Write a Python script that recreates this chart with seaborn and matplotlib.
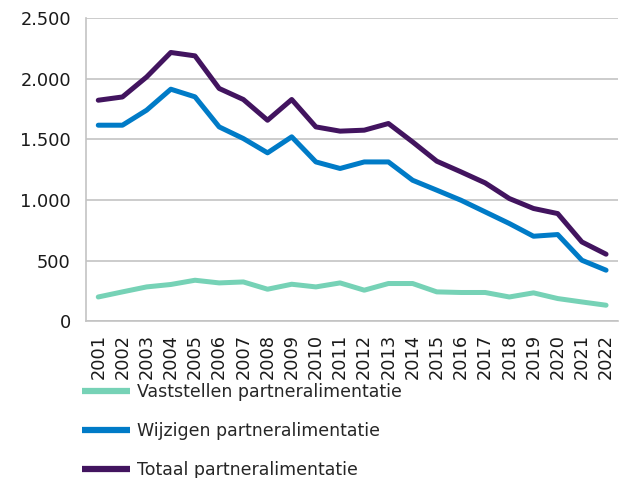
import pandas as pd
import seaborn as sns
import matplotlib.pyplot as plt
from matplotlib.ticker import FuncFormatter, MultipleLocator

# Partneralimentatie per jaar
years = list(range(2001, 2023))
vaststellen = [200, 242, 283, 303, 338, 316, 324, 264, 305, 283, 316, 256,
               311, 311, 242, 237, 237, 200, 234, 187, 159, 132]
wijzigen = [1617, 1617, 1741, 1914, 1851, 1603, 1507, 1389, 1521, 1314, 1260, 1314,
            1314, 1163, 1081, 998, 902, 806, 701, 715, 503, 421]
totaal = [1823, 1850, 2015, 2217, 2189, 1920, 1829, 1658, 1829, 1603, 1568, 1576,
          1631, 1479, 1320, 1232, 1141, 1012, 930, 888, 654, 553]
series_names = ["Vaststellen partneralimentatie", "Wijzigen partneralimentatie",
                "Totaal partneralimentatie"]
colors = ["#76D2B6", "#007BC7", "#42145F"]

df = pd.DataFrame({
    "Jaar": years * 3,
    "Aantal": vaststellen + wijzigen + totaal,
    "Reeks": [n for n in series_names for _ in years],
})

sns.set_style("white")
plt.rcParams["font.family"] = ["DejaVu Sans"]

fig = plt.figure(figsize=(6.2, 4.78), dpi=100)
ax = fig.add_axes([0.139, 0.328, 0.858, 0.634])

sns.lineplot(data=df, x="Jaar", y="Aantal", hue="Reeks", palette=colors,
             linewidth=3.6, ax=ax, legend=False)

ax.set_xlim(2000.5, 2022.5)
ax.set_ylim(0, 2500)
ax.yaxis.set_major_locator(MultipleLocator(500))
ax.yaxis.set_major_formatter(FuncFormatter(lambda v, p: f"{int(v):,}".replace(",", ".")))
ax.set_xticks(years)
ax.set_xticklabels([str(y) for y in years], rotation=90)
ax.set_xticks([y + 0.5 for y in range(2000, 2023)], minor=True)

ax.grid(axis="y", color="#C3C3C3", linewidth=1.2)
ax.set_axisbelow(True)
for s in ["top", "right"]:
    ax.spines[s].set_visible(False)
for s in ["left", "bottom"]:
    ax.spines[s].set_color("#C3C3C3")
    ax.spines[s].set_linewidth(1.2)

ax.tick_params(axis="y", which="major", length=6, color="#C3C3C3", width=1.2,
               labelsize=12.8, labelcolor="#1a1a1a", pad=5)
ax.tick_params(axis="x", which="major", length=0, labelsize=12.8,
               labelcolor="#1a1a1a", pad=9)
ax.tick_params(axis="x", which="minor", length=6, color="#C3C3C3", width=1.2)
ax.set_xlabel("")
ax.set_ylabel("")

handles = [plt.Line2D([], [], color=c, linewidth=4.5, solid_capstyle="butt")
           for c in colors]
fig.legend(handles, series_names, loc="upper left", bbox_to_anchor=(0.132, 0.198),
           frameon=False, fontsize=12.5, handlelength=2.8, handletextpad=0.35,
           labelspacing=1.2, borderpad=0, borderaxespad=0)

fig.savefig("out.png", dpi=100)
